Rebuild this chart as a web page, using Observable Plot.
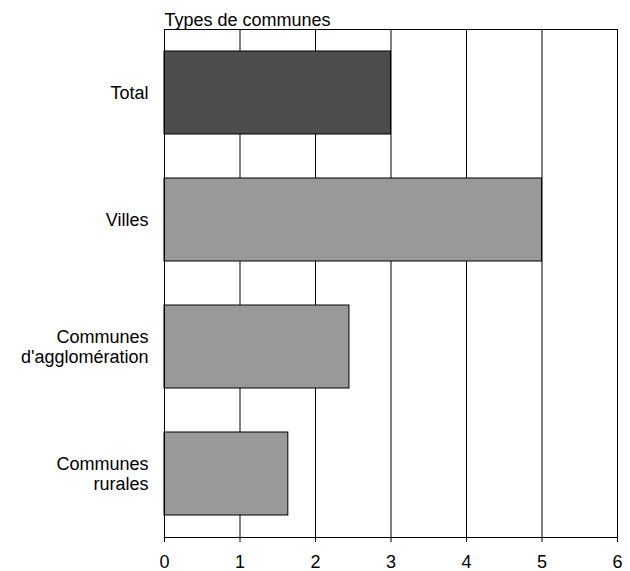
<!DOCTYPE html>
<html>
<head>
<meta charset="utf-8">
<script src="https://cdn.jsdelivr.net/npm/d3@7"></script>
<script src="https://cdn.jsdelivr.net/npm/@observablehq/plot@0.6"></script>
<style>
  body { margin: 0; background: #fff; }
  #chart svg { font-family: "Liberation Sans", Arial, sans-serif; }
</style>
</head>
<body>
<div id="chart"></div>
<script>
const categories = ["Total", "Villes", "Communes\nd'agglomération", "Communes\nrurales"];
const values = [3.0, 5.0, 2.45, 1.64];
const fills = ["#4d4d4d", "#999999", "#999999", "#999999"];
const xTicks = [0, 1, 2, 3, 4, 5, 6];
const title = "Types de communes";

const data = categories.map((c, i) => ({category: c, value: values[i], fill: fills[i]}));

const chart = Plot.plot({
  width: 630,
  height: 571,
  marginLeft: 164,
  marginRight: 13,
  marginTop: 29,
  marginBottom: 34,
  style: {fontFamily: "Liberation Sans, Arial, sans-serif", fontSize: "18px", color: "#000", background: "#fff"},
  x: {domain: [0, 6], ticks: xTicks, label: null},
  y: {domain: categories, paddingInner: 0.35, paddingOuter: 0.175, label: null},
  marks: [
    Plot.gridX(xTicks, {stroke: "#000", strokeOpacity: 1, strokeWidth: 1}),
    Plot.barX(data, {y: "category", x: "value", fill: "fill", stroke: "#000", strokeWidth: 1}),
    Plot.frame({stroke: "#000", strokeWidth: 1}),
    Plot.axisX(xTicks, {tickSize: 5, tickPadding: 13, fontSize: 18, stroke: "#000"}),
    Plot.axisY({tickSize: 0, tickPadding: 16, fontSize: 18, lineHeight: 1.1}),
    Plot.text([title], {frameAnchor: "top-left", textAnchor: "start", lineAnchor: "bottom", dy: -4, fontSize: 18, fill: "#000"})
  ]
});
document.getElementById("chart").appendChild(chart);
</script>
</body>
</html>
